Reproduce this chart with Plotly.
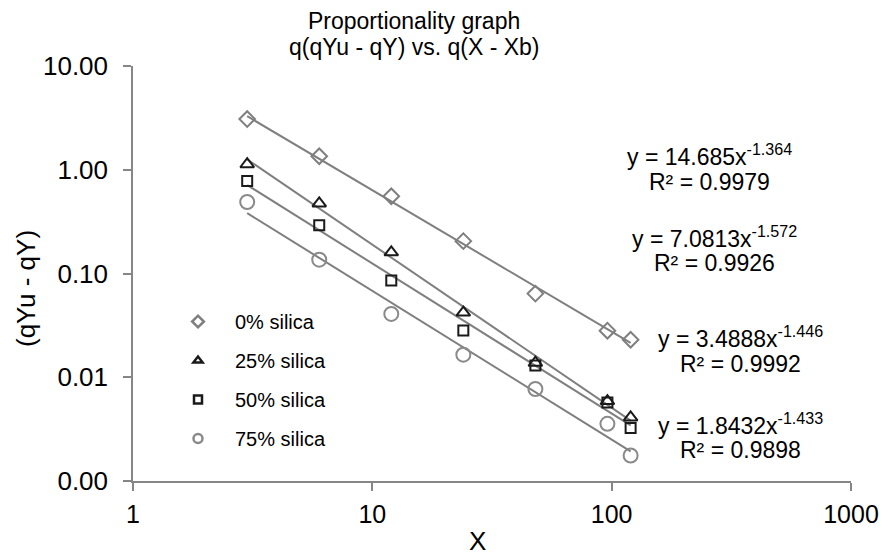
import numpy as np
import plotly.graph_objects as go

# Sampling times (X) and measured (qYu - qY) for each silica content
x_vals = [3, 6, 12, 24, 48, 96, 120]
series_names = ["0% silica", "25% silica", "50% silica", "75% silica"]
y_0 = [3.08, 1.35, 0.555, 0.205, 0.064, 0.0281, 0.023]
y_25 = [1.13, 0.474, 0.16, 0.042, 0.0138, 0.0059, 0.0041]
y_50 = [0.78, 0.291, 0.0855, 0.0283, 0.013, 0.0057, 0.00325]
y_75 = [0.489, 0.136, 0.0408, 0.0165, 0.0077, 0.00356, 0.00176]

# Power-law fits y = a * x^b
fit_a = [14.685, 7.0813, 3.4888, 1.8432]
fit_b = [-1.364, -1.572, -1.446, -1.433]
fit_r2 = ["0.9979", "0.9926", "0.9992", "0.9898"]
fit_a_text = ["14.685", "7.0813", "3.4888", "1.8432"]

y_ticks = [0.001, 0.01, 0.1, 1, 10]
y_tick_text = ["0.00", "0.01", "0.10", "1.00", "10.00"]
x_ticks = [1, 10, 100, 1000]
x_tick_text = ["1", "10", "100", "1000"]

FONT = "Liberation Sans, Arial, sans-serif"
W, H = 893, 555
L, R, T, B = 133, 42, 66, 74
GRAY = "#7f7f7f"
BLACK = "#1a1a1a"

styles = [
    dict(symbol="diamond-open", size=12, legend_size=9, color=GRAY),
    dict(symbol="triangle-up-open", size=12, legend_size=8, color=BLACK),
    dict(symbol="square-open", size=10, legend_size=8, color=BLACK),
    dict(symbol="circle-open", size=14, legend_size=9, color="#8a8a8a"),
]
all_y = [y_0, y_25, y_50, y_75]

fig = go.Figure()

# Trendlines (straight in log-log space, spanning the data range)
x_fit = np.array([min(x_vals), max(x_vals)], dtype=float)
for a, b in zip(fit_a, fit_b):
    fig.add_trace(go.Scatter(
        x=x_fit, y=a * x_fit ** b, mode="lines",
        line=dict(color=GRAY, width=2), showlegend=False, hoverinfo="skip"))

# Measured points
for name, ys, st in zip(series_names, all_y, styles):
    fig.add_trace(go.Scatter(
        x=x_vals, y=ys, mode="markers", name=name, legendgroup=name, showlegend=False,
        marker=dict(symbol=st["symbol"], size=st["size"], color=st["color"],
                    line=dict(color=st["color"], width=2))))

# Legend keys with compact symbols
for name, st in zip(series_names, styles):
    fig.add_trace(go.Scatter(
        x=[None], y=[None], mode="markers", name=name, legendgroup=name,
        marker=dict(symbol=st["symbol"], size=st["legend_size"], color=st["color"],
                    line=dict(color=st["color"], width=2.5))))


def px(xp):
    return (xp - L) / (W - L - R)


def py(yp):
    return (H - B - yp) / (H - T - B)


annotations = []
# Equation labels for each fit
eq_pos = [(709, 155, 182), (714, 237, 263), (740, 337, 364), (740, 424, 450)]
for (cx, ye, yr), a_txt, b, r2 in zip(eq_pos, fit_a_text, fit_b, fit_r2):
    annotations.append(dict(
        x=px(cx), y=py(ye), xref="paper", yref="paper", showarrow=False,
        text=f"y = {a_txt}x<sup>{b:.3f}</sup>", font=dict(size=23, color="#000", family=FONT),
        xanchor="center", yanchor="middle"))
    annotations.append(dict(
        x=px(cx), y=py(yr), xref="paper", yref="paper", showarrow=False,
        text=f"R² = {r2}", font=dict(size=23, color="#000", family=FONT),
        xanchor="center", yanchor="middle"))

# Two-line chart title
annotations.append(dict(x=px(414), y=py(21), xref="paper", yref="paper", showarrow=False,
                        text="Proportionality graph", font=dict(size=23, color="#000", family=FONT),
                        xanchor="center", yanchor="middle"))
annotations.append(dict(x=px(414), y=py(47), xref="paper", yref="paper", showarrow=False,
                        text="q(qYu - qY) vs. q(X - Xb)", font=dict(size=23, color="#000", family=FONT),
                        xanchor="center", yanchor="middle"))
# Axis titles
annotations.append(dict(x=px(477), y=py(541), xref="paper", yref="paper", showarrow=False,
                        text="X", font=dict(size=26, color="#000", family=FONT),
                        xanchor="center", yanchor="middle"))
annotations.append(dict(x=px(26), y=py(289), xref="paper", yref="paper", showarrow=False,
                        text="(qYu - qY)", textangle=-90, font=dict(size=26, color="#000", family=FONT),
                        xanchor="center", yanchor="middle"))

fig.update_layout(
    width=W, height=H,
    margin=dict(l=L, r=R, t=T, b=B, pad=0),
    paper_bgcolor="white", plot_bgcolor="white",
    font=dict(family=FONT, color="#000"),
    showlegend=True,
    legend=dict(x=px(161), y=py(302), xanchor="left", yanchor="top",
                font=dict(size=20, color="#000", family=FONT),
                bgcolor="rgba(0,0,0,0)", tracegroupgap=10, itemsizing="trace",
                itemwidth=64),
    annotations=annotations,
    xaxis=dict(type="log", range=[0, 3], tickvals=x_ticks, ticktext=x_tick_text,
               showgrid=False, zeroline=False, showline=True, linecolor="#868686", linewidth=1.5,
               ticks="outside", ticklen=8, tickcolor="#868686", tickwidth=1.5,
               tickfont=dict(size=25, color="#000", family=FONT), ticklabelstandoff=2),
    yaxis=dict(type="log", range=[-3, 1], tickvals=y_ticks, ticktext=y_tick_text,
               showgrid=False, zeroline=False, showline=True, linecolor="#868686", linewidth=1.5,
               ticks="outside", ticklen=8, tickcolor="#868686", tickwidth=1.5,
               tickfont=dict(size=26, color="#000", family=FONT), ticklabelstandoff=10),
)

fig.write_html("out.html")
